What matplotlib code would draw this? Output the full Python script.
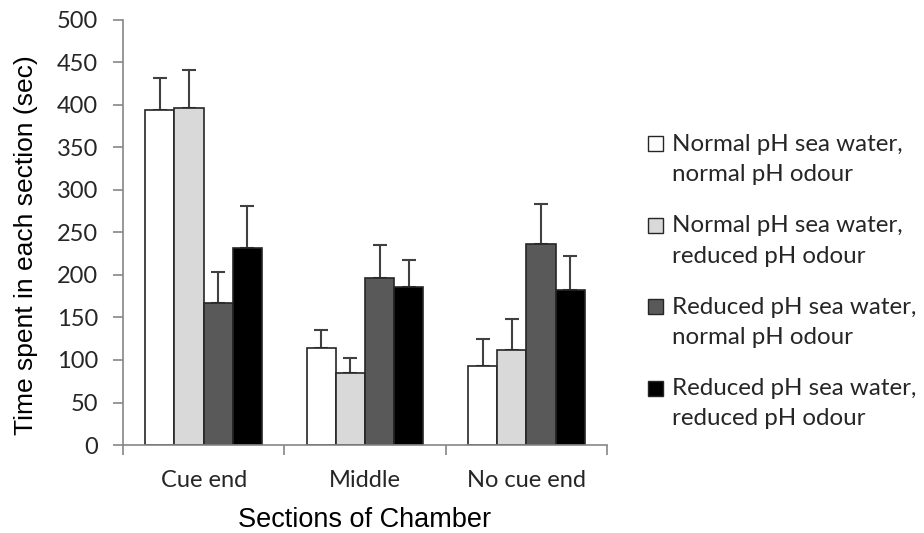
import matplotlib
matplotlib.use("Agg")
import matplotlib.pyplot as plt
import numpy as np
from matplotlib.patches import Rectangle
from matplotlib.legend_handler import HandlerPatch

categories = ["Cue end", "Middle", "No cue end"]
series_names = [
    "Normal pH sea water,\nnormal pH odour",
    "Normal pH sea water,\nreduced pH odour",
    "Reduced pH sea water,\nnormal pH odour",
    "Reduced pH sea water,\nreduced pH odour",
]
nn_vals = [394, 114, 93]
nr_vals = [396, 85, 112]
rn_vals = [167, 197, 236]
rr_vals = [232, 186, 182]
nn_err = [38, 21, 32]
nr_err = [45, 17, 36]
rn_err = [36, 38, 47]
rr_err = [49, 32, 40]
yticks = [0, 50, 100, 150, 200, 250, 300, 350, 400, 450, 500]

values = [nn_vals, nr_vals, rn_vals, rr_vals]
errors = [nn_err, nr_err, rn_err, rr_err]
colors = ["#ffffff", "#d9d9d9", "#595959", "#000000"]

fig = plt.figure(figsize=(9.24, 5.33), dpi=100)
ax = fig.add_axes([0.1331, 0.1651, 0.5239, 0.7974])

x = np.arange(len(categories))
w = 0.181
handles = []
for i, (vals, errs, c) in enumerate(zip(values, errors, colors)):
    pos = x + (i - 1.5) * w
    b = ax.bar(pos, vals, width=w, color=c, edgecolor="#262626", linewidth=1.2,
               zorder=2, label=series_names[i])
    ax.errorbar(pos, vals, yerr=[np.zeros(len(errs)), errs], fmt="none",
                ecolor="#404040", elinewidth=1.5, capsize=5, capthick=1.5, zorder=1)
    handles.append(b[0])

ax.set_xlim(-0.5, 2.5)
ax.set_ylim(0, 500)
ax.set_yticks(yticks)
ax.set_xticks([-0.5, 0.5, 1.5, 2.5])
ax.set_xticklabels([])
ax.set_xticks(x, minor=True)
ax.set_xticklabels(categories, minor=True)

for s in ["top", "right"]:
    ax.spines[s].set_visible(False)
for s in ["left", "bottom"]:
    ax.spines[s].set_color("#868686")
    ax.spines[s].set_linewidth(1.2)

tickfont = "Lato"
ax.tick_params(axis="y", which="major", direction="out", length=7, width=1.2,
               color="#868686", pad=11, labelsize=17, labelcolor="#262626")
ax.tick_params(axis="x", which="major", direction="out", length=7, width=1.2,
               color="#868686")
ax.tick_params(axis="x", which="minor", length=0, pad=18, labelsize=17,
               labelcolor="#262626")
for lab in ax.get_yticklabels() + ax.get_xticklabels(minor=True):
    lab.set_family(tickfont)

ax.set_ylabel("Time spent in each section (sec)", fontsize=19,
              family="Liberation Sans", color="#000000")
ax.yaxis.set_label_coords(-0.176, 0.4706)
ax.set_xlabel("Sections of Chamber", fontsize=19.5, family="Liberation Sans",
              color="#000000")
ax.xaxis.set_label_coords(0.5, -0.146)


def top_square(legend, orig_handle, xdescent, ydescent, width, height, fontsize):
    s = 0.61 * fontsize
    return Rectangle((-xdescent, -ydescent + height - s + 0.21 * fontsize), s, s)


leg = fig.legend(handles=handles, labels=series_names, loc="upper left",
                 bbox_to_anchor=(0.7013, 0.749), frameon=False,
                 borderpad=0, borderaxespad=0,
                 prop={"family": tickfont, "size": 17.4},
                 handlelength=0.61, handleheight=2.0, handletextpad=0.38,
                 labelspacing=1.25,
                 handler_map={Rectangle: HandlerPatch(patch_func=top_square)})
for h in leg.legend_handles:
    h.set_linewidth(1.0)
    h.set_edgecolor("#262626")
for t in leg.get_texts():
    t.set_color("#262626")
    t.set_linespacing(1.545)

fig.savefig("out.png", dpi=100)
